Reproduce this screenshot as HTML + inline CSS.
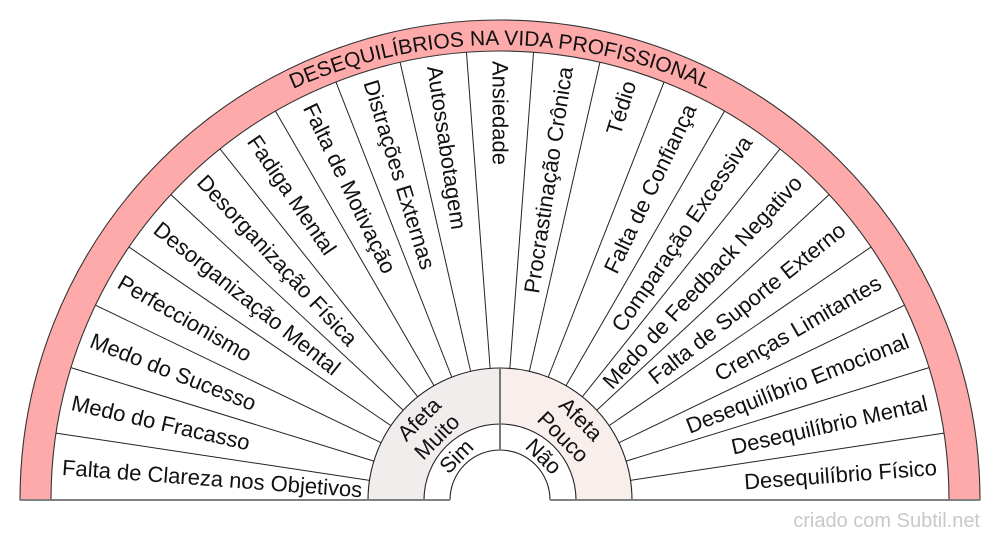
<!DOCTYPE html>
<html>
<head>
<meta charset="utf-8">
<style>
html,body{margin:0;padding:0;background:#fff;}
svg{display:block;}
text{font-family:"Liberation Sans",Arial,sans-serif;}
</style>
</head>
<body>
<svg width="1000" height="540" viewBox="0 0 1000 540" xmlns="http://www.w3.org/2000/svg">
<defs>
<path id="titlePath" d="M -10,555 A 510 510 0 0 1 1010,555"/>
</defs>
<!-- pink outer band -->
<path d="M 20,500 A 480 480 0 0 1 980,500 L 949,500 A 449 449 0 0 0 51,500 Z" fill="#ffaaaa" stroke="#333" stroke-width="1.1"/>
<text font-size="21px" fill="#111"><textPath href="#titlePath" startOffset="50%" text-anchor="middle">DESEQUILÍBRIOS NA VIDA PROFISSIONAL</textPath></text>

<!-- inner ring halves -->
<path d="M 368,500 A 132 132 0 0 1 500,368 L 500,424 A 76 76 0 0 0 424,500 Z" fill="#f2eded"/>
<path d="M 500,368 A 132 132 0 0 1 632,500 L 576,500 A 76 76 0 0 0 500,424 Z" fill="#f8eeec"/>
<g fill="none" stroke="#222" stroke-width="1.1">
<path d="M 368,500 A 132 132 0 0 1 632,500"/>
<path d="M 424,500 A 76 76 0 0 1 576,500"/>
<path d="M 450,500 A 50 50 0 0 1 550,500"/>
</g>
<line x1="500" y1="368" x2="500" y2="450" stroke="#777" stroke-width="2"/>

<!-- spokes -->
<g transform="translate(500,500)" stroke="#222" stroke-width="1">
<line x1="-449" y1="0" x2="-132" y2="0" transform="rotate(8.5714)"/>
<line x1="-449" y1="0" x2="-132" y2="0" transform="rotate(17.1429)"/>
<line x1="-449" y1="0" x2="-132" y2="0" transform="rotate(25.7143)"/>
<line x1="-449" y1="0" x2="-132" y2="0" transform="rotate(34.2857)"/>
<line x1="-449" y1="0" x2="-132" y2="0" transform="rotate(42.8571)"/>
<line x1="-449" y1="0" x2="-132" y2="0" transform="rotate(51.4286)"/>
<line x1="-449" y1="0" x2="-132" y2="0" transform="rotate(60)"/>
<line x1="-449" y1="0" x2="-132" y2="0" transform="rotate(68.5714)"/>
<line x1="-449" y1="0" x2="-132" y2="0" transform="rotate(77.1429)"/>
<line x1="-449" y1="0" x2="-132" y2="0" transform="rotate(85.7143)"/>
<line x1="-449" y1="0" x2="-132" y2="0" transform="rotate(94.2857)"/>
<line x1="-449" y1="0" x2="-132" y2="0" transform="rotate(102.8571)"/>
<line x1="-449" y1="0" x2="-132" y2="0" transform="rotate(111.4286)"/>
<line x1="-449" y1="0" x2="-132" y2="0" transform="rotate(120)"/>
<line x1="-449" y1="0" x2="-132" y2="0" transform="rotate(128.5714)"/>
<line x1="-449" y1="0" x2="-132" y2="0" transform="rotate(137.1429)"/>
<line x1="-449" y1="0" x2="-132" y2="0" transform="rotate(145.7143)"/>
<line x1="-449" y1="0" x2="-132" y2="0" transform="rotate(154.2857)"/>
<line x1="-449" y1="0" x2="-132" y2="0" transform="rotate(162.8571)"/>
<line x1="-449" y1="0" x2="-132" y2="0" transform="rotate(171.4286)"/>
</g>

<!-- bottom baseline -->
<line x1="20" y1="500" x2="450" y2="500" stroke="#808080" stroke-width="2"/>
<line x1="550" y1="500" x2="980" y2="500" stroke="#808080" stroke-width="2"/>

<!-- segment labels -->
<g transform="translate(500,500)" font-size="22px" fill="#111">
<g transform="rotate(4.2857)"><text x="-439" y="0" dy=".35em">Falta de Clareza nos Objetivos</text></g>
<g transform="rotate(12.8571)"><text x="-439" y="0" dy=".35em">Medo do Fracasso</text></g>
<g transform="rotate(21.4286)"><text x="-439" y="0" dy=".35em">Medo do Sucesso</text></g>
<g transform="rotate(30)"><text x="-439" y="0" dy=".35em">Perfeccionismo</text></g>
<g transform="rotate(38.5714)"><text x="-439" y="0" dy=".35em">Desorganização Mental</text></g>
<g transform="rotate(47.1429)"><text x="-439" y="0" dy=".35em">Desorganização Física</text></g>
<g transform="rotate(55.7143)"><text x="-439" y="0" dy=".35em">Fadiga Mental</text></g>
<g transform="rotate(64.2857)"><text x="-439" y="0" dy=".35em">Falta de Motivação</text></g>
<g transform="rotate(72.8571)"><text x="-439" y="0" dy=".35em">Distrações Externas</text></g>
<g transform="rotate(81.4286)"><text x="-439" y="0" dy=".35em">Autossabotagem</text></g>
<g transform="rotate(90)"><text x="-439" y="0" dy=".35em">Ansiedade</text></g>
<g transform="rotate(-81.4286)"><text x="438" y="0" dy=".35em" text-anchor="end">Procrastinação Crônica</text></g>
<g transform="rotate(-72.8571)"><text x="438" y="0" dy=".35em" text-anchor="end">Tédio</text></g>
<g transform="rotate(-64.2857)"><text x="438" y="0" dy=".35em" text-anchor="end">Falta de Confiança</text></g>
<g transform="rotate(-55.7143)"><text x="438" y="0" dy=".35em" text-anchor="end">Comparação Excessiva</text></g>
<g transform="rotate(-47.1429)"><text x="438" y="0" dy=".35em" text-anchor="end">Medo de Feedback Negativo</text></g>
<g transform="rotate(-38.5714)"><text x="438" y="0" dy=".35em" text-anchor="end">Falta de Suporte Externo</text></g>
<g transform="rotate(-30)"><text x="438" y="0" dy=".35em" text-anchor="end">Crenças Limitantes</text></g>
<g transform="rotate(-21.4286)"><text x="438" y="0" dy=".35em" text-anchor="end">Desequilíbrio Emocional</text></g>
<g transform="rotate(-12.8571)"><text x="438" y="0" dy=".35em" text-anchor="end">Desequilíbrio Mental</text></g>
<g transform="rotate(-4.2857)"><text x="438" y="0" dy=".35em" text-anchor="end">Desequilíbrio Físico</text></g>
</g>

<!-- inner ring labels -->
<g font-size="21.8px" fill="#111" text-anchor="middle">
<text transform="translate(419,419) rotate(-45)" dy=".35em">Afeta</text>
<text transform="translate(436.7,436.7) rotate(-45)" dy=".35em">Muito</text>
<text transform="translate(581,419) rotate(45)" dy=".35em">Afeta</text>
<text transform="translate(563.3,436.7) rotate(45)" dy=".35em">Pouco</text>
<text transform="translate(456.2,456.2) rotate(-45)" dy=".35em">Sim</text>
<text transform="translate(543.8,456.2) rotate(45)" dy=".35em">Não</text>
</g>

<!-- watermark -->
<text x="980" y="527" font-size="20px" fill="#c8c8c8" text-anchor="end">criado com Subtil.net</text>
</svg>
</body>
</html>
